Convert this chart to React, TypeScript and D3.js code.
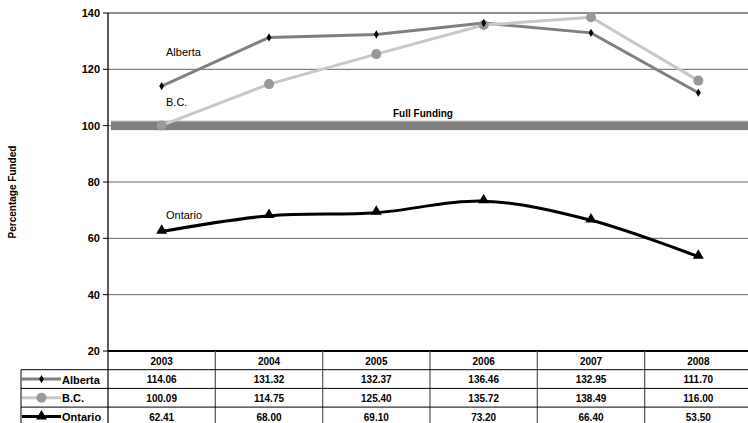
import React from 'react';
import * as d3 from 'd3';

const years = ['2003', '2004', '2005', '2006', '2007', '2008'];
const alberta = [114.06, 131.32, 132.37, 136.46, 132.95, 111.7];
const bc = [100.09, 114.75, 125.4, 135.72, 138.49, 116.0];
const ontario = [62.41, 68.0, 69.1, 73.2, 66.4, 53.5];
const yTicks = [20, 40, 60, 80, 100, 120, 140];

const W = 748;
const H = 423;
const left = 108;
const right = 752;
const top = 13;
const bottom = 351;
const rowH = 18.7;
const font = 'Liberation Sans, Arial, sans-serif';

const App: React.FC = () => {
  const x = d3.scaleBand<string>().domain(years).range([left, right]);
  const y = d3.scaleLinear().domain([20, 140]).range([bottom, top]);
  const cx = (d: string) => (x(d) || 0) + x.bandwidth() / 2;

  const straight = d3.line<number>()
    .x((_, i) => cx(years[i]))
    .y(d => y(d));
  const smooth = d3.line<number>()
    .x((_, i) => cx(years[i]))
    .y(d => y(d))
    .curve(d3.curveCardinal.tension(0));

  const diamond = d3.symbol().type(d3.symbolDiamond).size(20)() || '';
  const triangle = d3.symbol().type(d3.symbolTriangle).size(52)() || '';

  const series = [
    { name: 'Alberta', values: alberta, color: '#808080', marker: 'diamond' },
    { name: 'B.C.', values: bc, color: '#c8c8c8', marker: 'circle' },
    { name: 'Ontario', values: ontario, color: '#000000', marker: 'triangle' }
  ];

  const marker = (m: string, px: number, py: number, key: string) => {
    if (m === 'diamond') return <path key={key} d={diamond} transform={`translate(${px},${py})`} fill="#000" />;
    if (m === 'circle') return <circle key={key} cx={px} cy={py} r={5} fill="#999" />;
    return <path key={key} d={triangle} transform={`translate(${px},${py - 1})`} fill="#000" />;
  };

  const tableLeft = 21;

  return (
    <svg width={W} height={H} style={{ position: 'absolute', left: 0, top: 0, background: '#fff' }}>
      {/* gridlines */}
      {yTicks.slice(1).map(t => (
        <line key={t} x1={left} x2={right} y1={y(t)} y2={y(t)} stroke={t === 140 ? '#222' : '#666'} strokeWidth={1} />
      ))}
      {/* y axis */}
      <line x1={left} x2={left} y1={top} y2={bottom} stroke="#000" strokeWidth={1.3} />
      {yTicks.map(t => (
        <g key={t}>
          <line x1={left - 5} x2={left} y1={y(t)} y2={y(t)} stroke="#000" />
          <text x={100} y={y(t) + 4} textAnchor="end" fontFamily={font} fontWeight="bold" fontSize={11}>{t}</text>
        </g>
      ))}
      <text transform={`translate(16,${(top + bottom) / 2 + 10}) rotate(-90)`} textAnchor="middle" fontFamily={font} fontWeight="bold" fontSize={10}>Percentage Funded</text>

      {/* full funding */}
      <rect x={111} y={y(100) - 4.5} width={right - 111} height={9} fill="#808080" />
      <line x1={111} x2={right} y1={y(100) - 4.5} y2={y(100) - 4.5} stroke="#aaa" strokeWidth={1} />
      <text x={393} y={117} fontFamily={font} fontWeight="bold" fontSize={10}>Full Funding</text>

      {/* series */}
      <path d={straight(alberta) || ''} fill="none" stroke="#808080" strokeWidth={3} />
      <path d={straight(bc) || ''} fill="none" stroke="#c8c8c8" strokeWidth={3} />
      <path d={smooth(ontario) || ''} fill="none" stroke="#000" strokeWidth={3} />
      {bc.map((v, i) => marker('circle', cx(years[i]), y(v), 'b' + i))}
      {alberta.map((v, i) => marker('diamond', cx(years[i]), y(v), 'a' + i))}
      {ontario.map((v, i) => marker('triangle', cx(years[i]), y(v), 'o' + i))}

      <text x={166} y={56} fontFamily={font} fontSize={11}>Alberta</text>
      <text x={166} y={106} fontFamily={font} fontSize={11}>B.C.</text>
      <text x={166} y={219} fontFamily={font} fontSize={11}>Ontario</text>

      {/* data table */}
      <line x1={left} x2={right} y1={bottom} y2={bottom} stroke="#000" strokeWidth={2} />
      {years.map(yr => (
        <text key={yr} x={cx(yr)} y={bottom + 14} textAnchor="middle" fontFamily={font} fontWeight="bold" fontSize={10}>{yr}</text>
      ))}
      {years.map((yr, i) => (
        <line key={'v' + i} x1={(x(yr) || 0) + x.bandwidth()} x2={(x(yr) || 0) + x.bandwidth()} y1={bottom} y2={H} stroke="#555" strokeWidth={1.2} />
      ))}
      <line x1={left} x2={left} y1={bottom} y2={H} stroke="#000" strokeWidth={1.2} />
      <line x1={tableLeft} x2={tableLeft} y1={bottom + rowH} y2={H} stroke="#000" />
      {series.map((s, r) => {
        const ry = bottom + rowH * (r + 1);
        return (
          <g key={s.name}>
            <line x1={tableLeft} x2={right} y1={ry} y2={ry} stroke="#000" strokeWidth={1} />
            <line x1={22} x2={61} y1={ry + rowH / 2} y2={ry + rowH / 2} stroke={s.color} strokeWidth={3} />
            {marker(s.marker, 41.5, ry + rowH / 2 + (s.marker === 'triangle' ? 1 : 0), 'lg' + r)}
            <text x={62} y={ry + 14} fontFamily={font} fontWeight="bold" fontSize={11}>{s.name}</text>
            {s.values.map((v, i) => (
              <text key={i} x={cx(years[i])} y={ry + 13.5} textAnchor="middle" fontFamily={font} fontWeight="bold" fontSize={10}>{v.toFixed(2)}</text>
            ))}
          </g>
        );
      })}
    </svg>
  );
};

export default App;
